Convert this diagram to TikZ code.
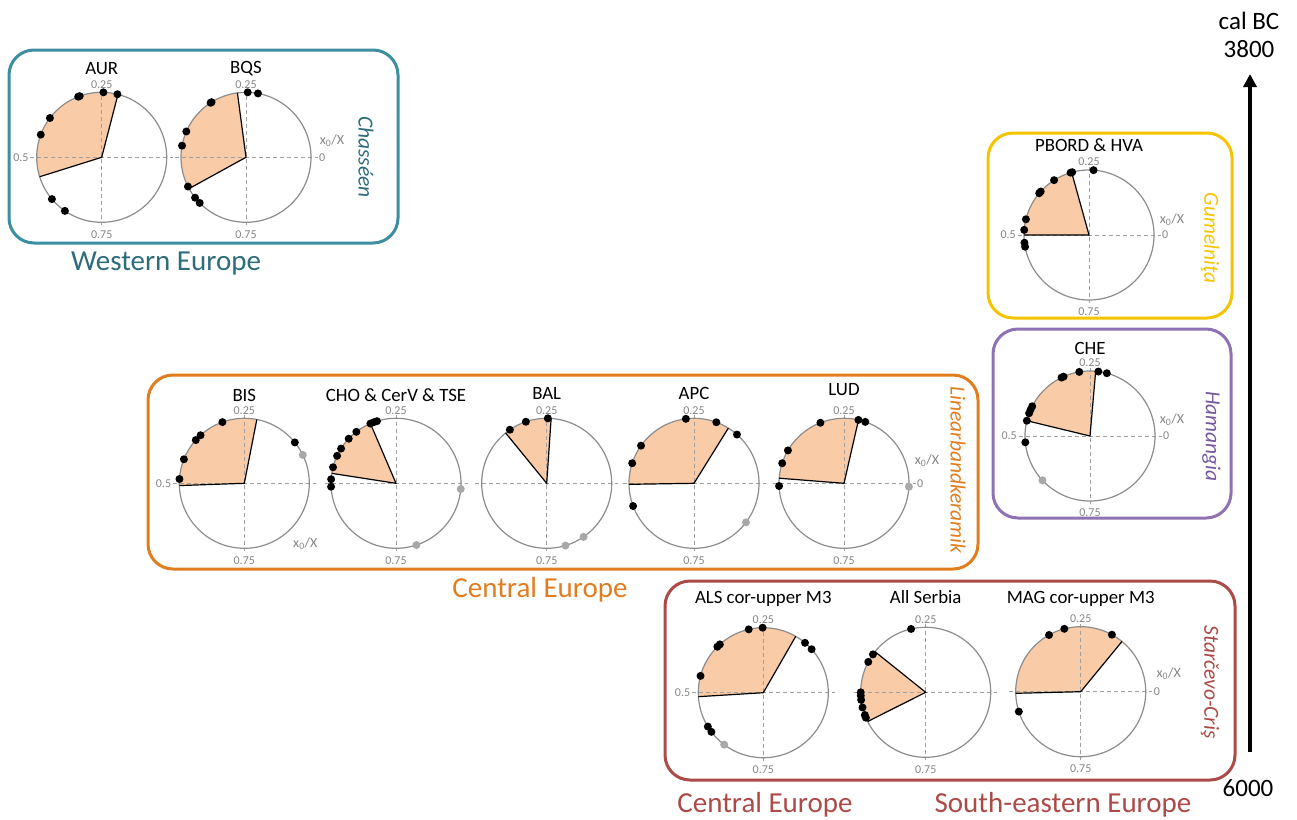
\documentclass[tikz,border=0pt]{standalone}
\usepackage{fontspec}
\setmainfont{Carlito}
\usepackage{xcolor}
\usepackage{tikz}
\usetikzlibrary{arrows.meta}
\definecolor{chasseen}{HTML}{3C8FA0}
\definecolor{chasseentext}{HTML}{2C6C7B}
\definecolor{gumel}{HTML}{F5C400}
\definecolor{hamang}{HTML}{8E72B4}
\definecolor{hamangtext}{HTML}{7458A0}
\definecolor{lbk}{HTML}{E27D1F}
\definecolor{starc}{HTML}{AC4A48}
\definecolor{peach}{HTML}{F9CBA7}
\definecolor{axisgrey}{HTML}{A0A0A0}
\definecolor{ringgrey}{HTML}{8C8C8C}
\definecolor{tickgrey}{HTML}{858585}
\definecolor{dotgrey}{HTML}{A8A8A8}
\tikzstyle{culturebox} = [line width=3pt, rounded corners=25pt]
\tikzstyle{wedge} = [fill=peach]
\tikzstyle{axisline} = [draw=axisgrey, line width=0.9pt, dash pattern=on 4pt off 3pt]
\tikzstyle{ringline} = [draw=ringgrey, line width=1.2pt]
\tikzstyle{radiusline} = [draw=black, line width=1.2pt]
\tikzstyle{sample} = [fill=black]
\tikzstyle{sampleoff} = [fill=dotgrey]
\tikzstyle{ticklabel} = [text=tickgrey, font=\fontsize{12}{14}\selectfont, inner sep=0pt]
\tikzstyle{ratiolabel} = [text=tickgrey, font=\fontsize{14}{16}\selectfont, inner sep=0pt]
\tikzstyle{sitename} = [font=\fontsize{18.8}{21}\selectfont, inner sep=0pt]
\tikzstyle{culturename} = [font=\fontsize{21.5}{24}\selectfont\itshape, rotate=-90, inner sep=0pt]
\tikzstyle{regionname} = [font=\fontsize{29}{33}\selectfont, inner sep=0pt, anchor=base]
\tikzstyle{datelabel} = [font=\fontsize{25}{29}\selectfont, inner sep=0pt]

\begin{document}
\begin{tikzpicture}[x=1pt, y=-1pt]
	\useasboundingbox (0,0) rectangle (1297,819);
	
	\newcommand{\rose}[7]{
		\coordinate (#1) at (#2);
		\fill[wedge] (#1) -- ++(#3:65pt) arc[start angle=#3, end angle=#4, radius=65pt] -- cycle;
		\draw[axisline] ([xshift=-71.5pt]#1) -- ([xshift=71.5pt]#1);
		\draw[axisline] ([yshift=68pt]#1) -- ([yshift=-68pt]#1);
		\draw[ringline] (#1) circle[radius=65pt];
		\draw[radiusline] (#1) ++(#3:65pt) -- (#1) -- ++(#4:65pt);
		\foreach \a in {#5}
		{
			\fill[sample] (#1) ++(\a:65pt) circle[radius=4pt];
		}
		\node[sitename] (#1-name) at ([yshift=#7pt]#1) {#6};
		\node[ticklabel] (#1-q1) at ([yshift=73pt]#1) {0.25};
		\node[ticklabel] (#1-q3) at ([yshift=-77pt]#1) {0.75};
	}
	
	% culture boxes
	\draw[culturebox, chasseen] (9,50) rectangle (398,243);
	\draw[culturebox, gumel] (988,133) rectangle (1232,318);
	\draw[culturebox, hamang] (993,329) rectangle (1231,518);
	\draw[culturebox, lbk] (148,375) rectangle (978,569);
	\draw[culturebox, starc] (665,581) rectangle (1235,780);
	
	% Chasseen
	\rose{AUR}{101.7,157.3}{75.5}{197.4}{76, 88.5, 109.8, 111.2, 142.8, 159.6, 220, 235.5}{AUR}{89}
	\rose{BQS}{246,157.3}{97.6}{208.8}{79.4, 88.5, 122, 123, 156.6, 169.7, 206.7, 218.4, 224.6}{BQS}{89}
	\node[ticklabel, anchor=east] (AUR-q2) at ([xshift=-73pt]AUR) {0.5};
	\node[ticklabel, anchor=west] (BQS-q0) at ([xshift=73pt]BQS) {0};
	\node[ratiolabel] (BQS-ratio) at ([xshift=86pt, yshift=17pt]BQS) {x\textsubscript{0}/X};
	
	% Gumelnita
	\rose{PBORD}{1089,235}{105.5}{180}{86, 105, 106.5, 122.5, 138, 140, 166, 175.5, 186.8, 190.4}{PBORD \& HVA}{90}
	\node[ticklabel, anchor=east] (PBORD-q2) at ([xshift=-73pt]PBORD) {0.5};
	\node[ticklabel, anchor=west] (PBORD-q0) at ([xshift=73pt]PBORD) {0};
	\node[ratiolabel] (PBORD-ratio) at ([xshift=83pt, yshift=15pt]PBORD) {x\textsubscript{0}/X};
	
	% Hamangia
	\rose{CHE}{1090,436}{85}{166.4}{75, 82.6, 99.5, 114, 116, 152.8, 156, 159.5, 166.4, 185.6}{CHE}{88}
	\fill[sampleoff] (CHE) ++(223:65pt) circle[radius=4pt];
	\node[ticklabel, anchor=east] (CHE-q2) at ([xshift=-73pt]CHE) {0.5};
	\node[ticklabel, anchor=west] (CHE-q0) at ([xshift=73pt]CHE) {0};
	\node[ratiolabel] (CHE-ratio) at ([xshift=82pt, yshift=16pt]CHE) {x\textsubscript{0}/X};
	
	% Linearbandkeramik
	\rose{BIS}{244.3,483.3}{78.9}{182}{39, 109.7, 132.3, 138.3, 158.3, 176.2}{BIS}{88}
	\rose{CHO}{396,483.3}{113.2}{171.2}{107, 109.9, 113.2, 127.6, 136.7, 147.7, 155, 165.7, 176.4, 183}{CHO \& CerV \& TSE}{88}
	\rose{BAL}{546.7,483.3}{86.1}{129.2}{89, 108.7, 124.5}{BAL}{90}
	\rose{APC}{694,483.3}{58.1}{180.9}{48.6, 69.9, 97.2, 144.6, 162, 200.5}{APC}{90}
	\rose{LUD}{844,483.3}{77.1}{175.5}{70.9, 77.2, 111.3, 149.6, 162, 182.4}{LUD}{94}
	\foreach \cooname/\a in {BIS/25.9, CHO/288.3, CHO/355, BAL/286.8, BAL/304.5, APC/323.1, LUD/357}
	{
		\fill[sampleoff] (\cooname) ++(\a:65pt) circle[radius=4pt];
	}
	\node[ticklabel, anchor=east] (BIS-q2) at ([xshift=-73pt]BIS) {0.5};
	\node[ratiolabel] (BIS-ratio) at ([xshift=61pt, yshift=-60pt]BIS) {x\textsubscript{0}/X};
	\node[ticklabel, anchor=west] (LUD-q0) at ([xshift=73pt]LUD) {0};
	\node[ratiolabel] (LUD-ratio) at ([xshift=83pt, yshift=23pt]LUD) {x\textsubscript{0}/X};
	
	% Starcevo-Cris
	\rose{ALS}{763.3,692.7}{60.1}{183.5}{42, 50.1, 90.6, 103, 132, 135, 165, 211.4, 217}{ALS cor-upper M3}{94}
	\rose{SRB}{925.7,692.3}{141.3}{206.7}{103, 144.3, 152.1, 180, 183, 186.7, 193.5, 200.5, 203}{All Serbia}{95}
	\rose{MAG}{1080.7,691.7}{50.6}{181.4}{61.3, 104.6, 119.2, 197.8}{MAG cor-upper M3}{93}
	\fill[sampleoff] (ALS) ++(233:65pt) circle[radius=4pt];
	\node[ticklabel, anchor=east] (ALS-q2) at ([xshift=-73pt]ALS) {0.5};
	\node[ticklabel, anchor=west] (MAG-q0) at ([xshift=73pt]MAG) {0};
	\node[ratiolabel] (MAG-ratio) at ([xshift=88pt, yshift=18pt]MAG) {x\textsubscript{0}/X};
	
	% culture names
	\node[culturename, chasseentext] (chasseen) at (366,157) {Chasséen};
	\node[culturename, gumel] (gumelnita) at (1210,238) {Gumelniţa};
	\node[culturename, hamangtext] (hamangia) at (1211.5,436.5) {Hamangia};
	\node[culturename, lbk] (lbk) at (958,470) {Linearbandkeramik};
	\node[culturename, starc] (starcevo) at (1210,682) {Starčevo-Criş};
	
	% regions
	\node[regionname, chasseentext] (west) at (166,270) {Western Europe};
	\node[regionname, lbk] (central) at (540,597) {Central Europe};
	\node[regionname, starc] (central2) at (765,812) {Central Europe};
	\node[regionname, starc] (southeast) at (1063,812) {South-eastern Europe};
	
	% time axis
	\coordinate (t0) at (1250,752);
	\coordinate (t1) at (1250,74);
	\draw[line width=3.5pt, -{Triangle[length=13pt, width=13pt]}] (t0) -- (t1);
	\node[datelabel] (calbc) at (1249,21) {cal BC};
	\node[datelabel] (young) at (1249,49) {3800};
	\node[datelabel] (old) at (1248,788) {6000};
\end{tikzpicture}
\end{document}
